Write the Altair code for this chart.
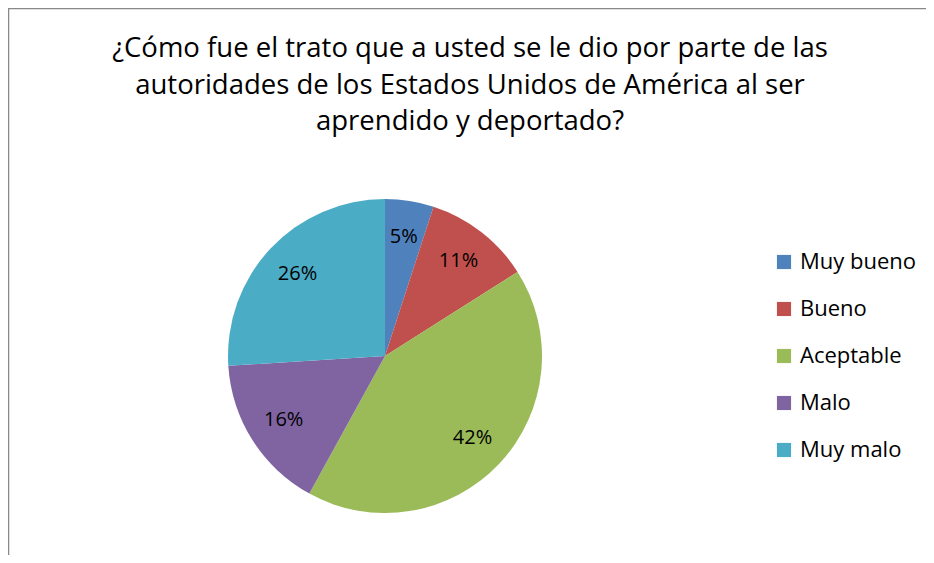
import altair as alt
import pandas as pd

categories = ["Muy bueno", "Bueno", "Aceptable", "Malo", "Muy malo"]
values = [5, 11, 42, 16, 26]
labels = ["5%", "11%", "42%", "16%", "26%"]
colors = ["#4F81BD", "#C0504D", "#9BBB59", "#8064A2", "#4BACC6"]
title_lines = [
    "¿Cómo fue el trato que a usted se le dio por parte de las",
    "autoridades de los Estados Unidos de América al ser",
    "aprendido y deportado?",
]

df = pd.DataFrame({"cat": categories, "val": values, "lab": labels, "idx": list(range(len(categories)))})

W, H = 918, 547
CX, CY = 377, 348
R = 157
FONT = "Open Sans"

color = alt.Color(
    "cat:N",
    scale=alt.Scale(domain=categories, range=colors),
    legend=alt.Legend(
        title=None,
        orient="none",
        legendX=765,
        legendY=243,
        symbolType="square",
        symbolSize=200,
        symbolStrokeWidth=0,
        labelFont=FONT,
        labelFontSize=22,
        labelColor="#000000",
        rowPadding=25,
        labelOffset=5,
    ),
)

base = alt.Chart(df).encode(
    theta=alt.Theta("val:Q", stack=True),
    order=alt.Order("idx:Q"),
)

pie = base.mark_arc(radius=R, x=CX, y=CY).encode(color=color)
text = base.mark_text(radius=120, x=CX, y=CY, font=FONT, fontSize=20, color="#000000").encode(text="lab:N")

tdf = pd.DataFrame({"t": title_lines, "i": [0, 1, 2]})
title = alt.Chart(tdf).mark_text(font=FONT, fontSize=27.5, color="#000000", align="center", baseline="middle").encode(
    text="t:N",
    x=alt.value(462),
    y=alt.Y("i:Q", axis=None, scale=alt.Scale(domain=[0, 2], range=[41, 114])),
)

frame_top = alt.Chart(pd.DataFrame({"a": [0]})).mark_rule(color="#888888", strokeWidth=1.5).encode(
    x=alt.value(0), x2=alt.value(W), y=alt.value(0.5)
)
frame_left = alt.Chart(pd.DataFrame({"a": [0]})).mark_rule(color="#888888", strokeWidth=1.5).encode(
    x=alt.value(0.5), y=alt.value(0), y2=alt.value(H)
)

chart = alt.layer(pie, text, title, frame_top, frame_left).resolve_scale(y="independent").properties(
    width=W, height=H, padding=0, autosize=alt.AutoSizeParams(type="none")
).configure_view(stroke=None).configure(background="white")

chart.save("out.html", embed_options={"renderer": "svg", "actions": False})
